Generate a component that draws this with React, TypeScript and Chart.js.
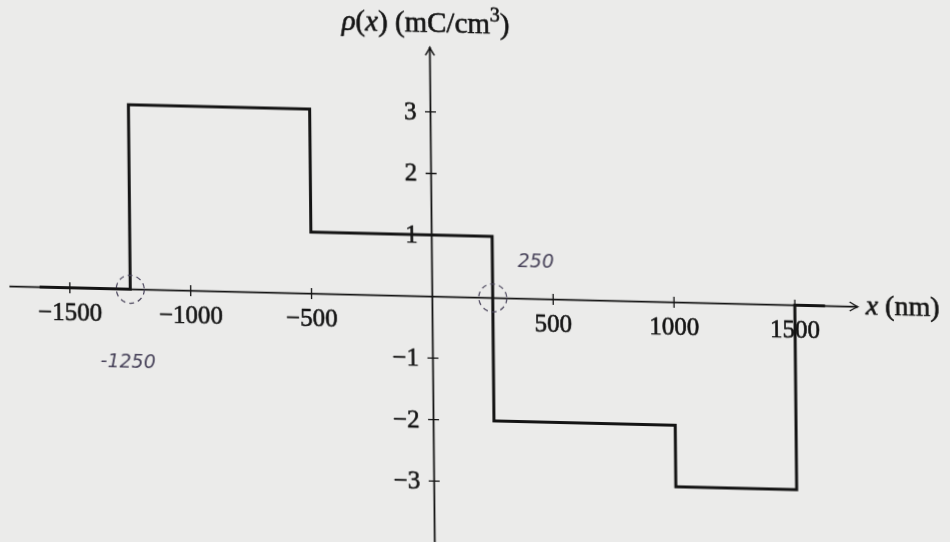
import React, { useEffect, useRef } from "react";
import { Chart, registerables } from "chart.js";

Chart.register(...registerables);

// Charge density profile: rho (mC/cm^3) that holds from each edge (nm) onward
const edgesNm = [-1625, -1250, -500, 250, 1000, 1500, 1625];
const rhoFromEdge = [0, 3, 1, -2, -3, 0, 0];

// Axis ticks
const xTickValues = [-1500, -1000, -500, 500, 1000, 1500];
const xTickLabels = ["−1500", "−1000", "−500", "500", "1000", "1500"];
const yTickValues = [3, 2, 1, -1, -2, -3];
const yTickLabels = ["3", "2", "1", "−1", "−2", "−3"];

// Visible extent of the drawn axes (data units)
const xAxisFrom = -1750;
const xAxisTo = 1760;
const yAxisFrom = -4.3;
const yAxisTo = 4.05;

// Scale ranges (data units spanning the whole canvas)
const xRange = [-1789, 2141];
const yRange = [-3.99, 4.82];

// Pencil notes marking where rho changes sign
const markedX = [-1250, 250];
const noteText = ["-1250", "250"];
const noteAt = [
  [-1262, -1.2],
  [430, 0.6],
];

const INK = "#141414";
const PENCIL = "#48435a";
const SERIF = '"Liberation Serif", "DejaVu Serif", serif';

type Run = { t: string; italic?: boolean; sup?: boolean };

const yTitle: Run[] = [
  { t: "ρ", italic: true },
  { t: "(" },
  { t: "x", italic: true },
  { t: ") (mC/cm" },
  { t: "3", sup: true },
  { t: ")" },
];
const xTitle: Run[] = [{ t: "x", italic: true }, { t: " (nm)" }];

function runFont(r: Run, size: number) {
  const s = r.sup ? Math.round(size * 0.7) : size;
  return `${r.italic ? "italic " : ""}${s}px ${SERIF}`;
}

// filled text with a hairline outline so it carries the weight of printed type
function inkText(ctx: CanvasRenderingContext2D, t: string, x: number, y: number) {
  ctx.fillText(t, x, y);
  ctx.strokeText(t, x, y);
}

function runsWidth(ctx: CanvasRenderingContext2D, runs: Run[], size: number) {
  let w = 0;
  for (const r of runs) {
    ctx.font = runFont(r, size);
    w += ctx.measureText(r.t).width;
  }
  return w;
}

function drawRuns(
  ctx: CanvasRenderingContext2D,
  runs: Run[],
  x: number,
  baseline: number,
  size: number
) {
  ctx.textAlign = "left";
  ctx.textBaseline = "alphabetic";
  let cx = x;
  for (const r of runs) {
    ctx.font = runFont(r, size);
    inkText(ctx, r.t, cx, r.sup ? baseline - size * 0.42 : baseline);
    cx += ctx.measureText(r.t).width;
  }
}

function arrowHead(
  ctx: CanvasRenderingContext2D,
  tx: number,
  ty: number,
  dir: "right" | "up"
) {
  ctx.beginPath();
  if (dir === "right") {
    ctx.moveTo(tx - 8, ty - 4.5);
    ctx.quadraticCurveTo(tx - 2.5, ty - 1, tx, ty);
    ctx.quadraticCurveTo(tx - 2.5, ty + 1, tx - 8, ty + 4.5);
  } else {
    ctx.moveTo(tx - 4.5, ty + 8);
    ctx.quadraticCurveTo(tx - 1, ty + 2.5, tx, ty);
    ctx.quadraticCurveTo(tx + 1, ty + 2.5, tx + 4.5, ty + 8);
  }
  ctx.stroke();
}

const crossAxes = {
  id: "crossAxes",
  beforeDatasetsDraw(chart: any) {
    const ctx: CanvasRenderingContext2D = chart.ctx;
    const xs = chart.scales.x;
    const ys = chart.scales.y;
    const x0 = xs.getPixelForValue(0);
    const y0 = ys.getPixelForValue(0);
    const xa = xs.getPixelForValue(xAxisFrom);
    const xb = xs.getPixelForValue(xAxisTo);
    const ya = ys.getPixelForValue(yAxisFrom);
    const yb = ys.getPixelForValue(yAxisTo);

    ctx.save();
    ctx.strokeStyle = INK;
    ctx.fillStyle = INK;
    ctx.lineCap = "butt";

    // axis lines through the origin
    ctx.lineWidth = 1.8;
    ctx.beginPath();
    ctx.moveTo(xa, y0);
    ctx.lineTo(xb, y0);
    ctx.moveTo(x0, ya);
    ctx.lineTo(x0, yb);
    ctx.stroke();
    ctx.lineWidth = 1.4;
    arrowHead(ctx, xb, y0, "right");
    arrowHead(ctx, x0, yb, "up");

    // tick marks crossing the axes
    ctx.lineWidth = 1.3;
    ctx.beginPath();
    xTickValues.forEach((v) => {
      const px = xs.getPixelForValue(v);
      ctx.moveTo(px, y0 - 5.5);
      ctx.lineTo(px, y0 + 5.5);
    });
    yTickValues.forEach((v) => {
      const py = ys.getPixelForValue(v);
      ctx.moveTo(x0 - 5.5, py);
      ctx.lineTo(x0 + 5.5, py);
    });
    ctx.stroke();

    // tick labels
    ctx.lineWidth = 0.6;
    ctx.lineJoin = "round";
    ctx.font = `25px ${SERIF}`;
    ctx.textBaseline = "alphabetic";
    ctx.textAlign = "center";
    xTickValues.forEach((v, i) => {
      inkText(ctx, xTickLabels[i], xs.getPixelForValue(v), y0 + 32);
    });
    ctx.textAlign = "right";
    yTickValues.forEach((v, i) => {
      inkText(ctx, yTickLabels[i], x0 - 14, ys.getPixelForValue(v) + 8);
    });

    // axis titles
    const ts = 29;
    const wy = runsWidth(ctx, yTitle, ts);
    drawRuns(ctx, yTitle, x0 - 4 - wy / 2, yb - 15, ts);
    drawRuns(ctx, xTitle, xb + 8, y0 + 7, 28);

    ctx.restore();
  },
  afterDatasetsDraw(chart: any) {
    const ctx: CanvasRenderingContext2D = chart.ctx;
    const xs = chart.scales.x;
    const ys = chart.scales.y;
    const y0 = ys.getPixelForValue(0);
    ctx.save();
    ctx.strokeStyle = PENCIL;
    ctx.fillStyle = PENCIL;
    ctx.lineWidth = 1.2;
    ctx.setLineDash([5, 4]);
    markedX.forEach((v) => {
      ctx.beginPath();
      ctx.arc(xs.getPixelForValue(v), y0, 14, 0, Math.PI * 2);
      ctx.stroke();
    });
    ctx.setLineDash([]);
    ctx.font = 'italic 19px "DejaVu Sans", sans-serif';
    ctx.textAlign = "center";
    ctx.textBaseline = "middle";
    noteAt.forEach(([vx, vy], i) => {
      ctx.fillText(noteText[i], xs.getPixelForValue(vx), ys.getPixelForValue(vy));
    });
    ctx.restore();
  },
};

export default function App() {
  const ref = useRef<HTMLCanvasElement | null>(null);

  useEffect(() => {
    if (!ref.current) return;
    const chart = new Chart(ref.current, {
      type: "line",
      data: {
        datasets: [
          {
            data: edgesNm.map((x, i) => ({ x, y: rhoFromEdge[i] })),
            stepped: true,
            borderColor: INK,
            borderWidth: 3,
            pointRadius: 0,
            fill: false,
            borderJoinStyle: "miter",
          },
        ],
      },
      options: {
        animation: false,
        responsive: false,
        devicePixelRatio: 1,
        events: [],
        layout: { padding: 0 },
        plugins: { legend: { display: false }, tooltip: { enabled: false } },
        scales: {
          x: { type: "linear", min: xRange[0], max: xRange[1], display: false },
          y: { type: "linear", min: yRange[0], max: yRange[1], display: false },
        },
      },
      plugins: [crossAxes],
    } as any);
    return () => chart.destroy();
  }, []);

  return (
    <div
      style={{
        position: "fixed",
        inset: 0,
        background: "#ebebea",
        overflow: "hidden",
      }}
    >
      <canvas
        ref={ref}
        width={950}
        height={542}
        style={{
          position: "absolute",
          left: 0,
          top: 0,
          width: 950,
          height: 542,
          transformOrigin: "432.5px 296.5px",
          transform: "matrix(1, 0.024, 0.01, 1, 0, 0)",
        }}
      />
    </div>
  );
}
